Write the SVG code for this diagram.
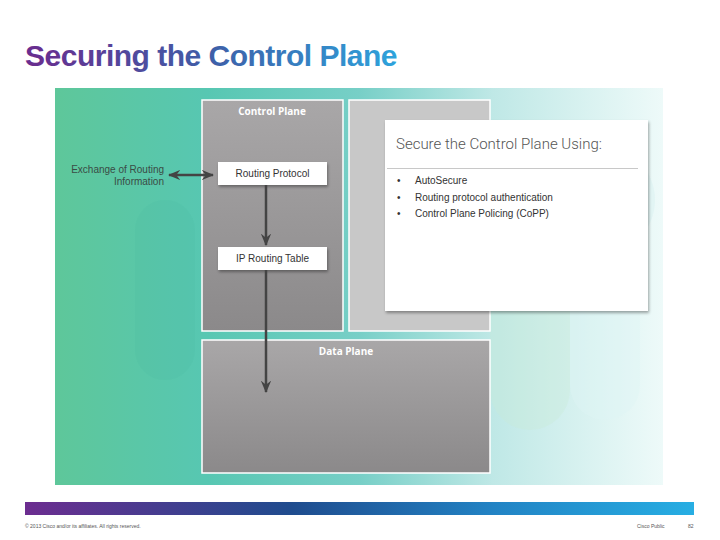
<svg xmlns="http://www.w3.org/2000/svg" width="720" height="540" viewBox="0 0 720 540">
<defs>
<linearGradient id="title" x1="0" y1="0" x2="1" y2="0">
<stop offset="0" stop-color="#6a2c8e"/><stop offset="0.5" stop-color="#3e5fa8"/><stop offset="1" stop-color="#2ea3dc"/>
</linearGradient>
<linearGradient id="bar" x1="0" y1="0" x2="1" y2="0">
<stop offset="0" stop-color="#6c2d90"/><stop offset="0.4" stop-color="#1f4c8e"/><stop offset="0.7" stop-color="#2283c4"/><stop offset="1" stop-color="#27aee3"/>
</linearGradient>
<linearGradient id="bg" x1="0" y1="0" x2="1" y2="0">
<stop offset="0" stop-color="#5ec79a"/><stop offset="0.25" stop-color="#57c7b2"/><stop offset="0.5" stop-color="#77cfc7"/><stop offset="0.72" stop-color="#bfe8e6"/><stop offset="1" stop-color="#eefaf9"/>
</linearGradient>
<linearGradient id="gray" x1="0" y1="0" x2="0" y2="1">
<stop offset="0" stop-color="#a9a7a8"/><stop offset="1" stop-color="#8b898a"/>
</linearGradient>
<filter id="sh" x="-10%" y="-10%" width="120%" height="130%">
<feDropShadow dx="1" dy="2" stdDeviation="1.5" flood-color="#000" flood-opacity="0.35"/>
</filter>
<marker id="ah" viewBox="0 0 12 10" refX="11" refY="5" markerWidth="5" markerHeight="4.2" orient="auto-start-reverse" markerUnits="strokeWidth">
<path d="M0,0 L12,5 L0,10 L4,5 Z" fill="#444"/>
</marker>
<style>
.box{fill:url(#gray);stroke:#fff;stroke-width:1.5}
.wbox{fill:#fff;filter:url(#sh)}
.lbl{font-family:"Liberation Sans",Arial,sans-serif;font-size:10px;fill:#333;text-anchor:middle}
.hd{font-family:"Open Sans","Liberation Sans",sans-serif;font-size:10px;font-weight:bold;fill:#fff;text-anchor:middle}
.bul{font-family:"Liberation Sans",Arial,sans-serif;font-size:10px;fill:#333}
.conn{stroke:#444;stroke-width:2.5;fill:none;marker-end:url(#ah)}
.ft{font-family:"Liberation Sans",Arial,sans-serif;font-size:5px;fill:#555}
</style>
</defs>
<rect width="720" height="540" fill="#fff"/>
<text x="25" y="66" font-family="Liberation Sans,Arial,sans-serif" font-size="30" font-weight="bold" fill="url(#title)" letter-spacing="-0.5">Securing the Control Plane</text>
<g id="background">
<rect x="55" y="88" width="608" height="397" fill="url(#bg)"/>
<rect x="135" y="200" width="60" height="180" rx="30" fill="#3fb6a0" opacity="0.12"/>
<rect x="490" y="180" width="80" height="250" rx="40" fill="#c9ecd8" opacity="0.35"/>
<rect x="570" y="160" width="70" height="260" rx="35" fill="#dff5f5" opacity="0.4"/>
<circle cx="600" cy="200" r="55" fill="#d0efee" opacity="0.35"/>
</g>
<g id="control-plane">
<rect class="box" x="202" y="100" width="141" height="231"/>
<text class="hd" x="272" y="115">Control Plane</text>
</g>
<g id="secure-panel">
<rect x="349" y="100" width="141" height="231" fill="#c8c8c8" stroke="#fff" stroke-width="1.5"/>
</g>
<g id="secure-card">
<rect class="wbox" x="385" y="120" width="263" height="191"/>
<text x="396" y="149" font-family="Roboto,'Liberation Sans',sans-serif" font-weight="300" font-size="15" fill="#555">Secure the Control Plane Using:</text>
<line x1="387" y1="168.5" x2="638" y2="168.5" stroke="#c8c8c8" stroke-width="1"/>
<text class="bul" x="397" y="184">•</text><text class="bul" x="415" y="184">AutoSecure</text>
<text class="bul" x="397" y="201">•</text><text class="bul" x="415" y="201">Routing protocol authentication</text>
<text class="bul" x="397" y="217">•</text><text class="bul" x="415" y="217">Control Plane Policing (CoPP)</text>
</g>
<g id="data-plane">
<rect class="box" x="202" y="340" width="288" height="133"/>
<text class="hd" x="346" y="355">Data Plane</text>
</g>
<g id="routing-protocol">
<rect class="wbox" x="218" y="162" width="109" height="23"/>
<text class="lbl" x="272.5" y="177">Routing Protocol</text>
</g>
<g id="ip-routing-table">
<rect class="wbox" x="218" y="247" width="109" height="23"/>
<text class="lbl" x="272.5" y="262">IP Routing Table</text>
</g>
<g id="exchange-label">
<text x="164" y="173" font-family="Liberation Sans,Arial,sans-serif" font-size="10" fill="#3a4b45" text-anchor="end">Exchange of Routing</text>
<text x="164" y="185" font-family="Liberation Sans,Arial,sans-serif" font-size="10" fill="#3a4b45" text-anchor="end">Information</text>
</g>
<g id="connectors">
<line class="conn" x1="169" y1="175" x2="213" y2="175" marker-start="url(#ah)"/>
<line class="conn" x1="266" y1="185" x2="266" y2="245"/>
<line class="conn" x1="266" y1="270" x2="266" y2="392"/>
</g>
<g id="footer">
<rect x="25" y="502" width="669" height="13" fill="url(#bar)"/>
<text class="ft" x="25" y="528">© 2013 Cisco and/or its affiliates. All rights reserved.</text>
<text class="ft" x="637" y="528">Cisco Public</text>
<text class="ft" x="688" y="528">82</text>
</g>
</svg>
